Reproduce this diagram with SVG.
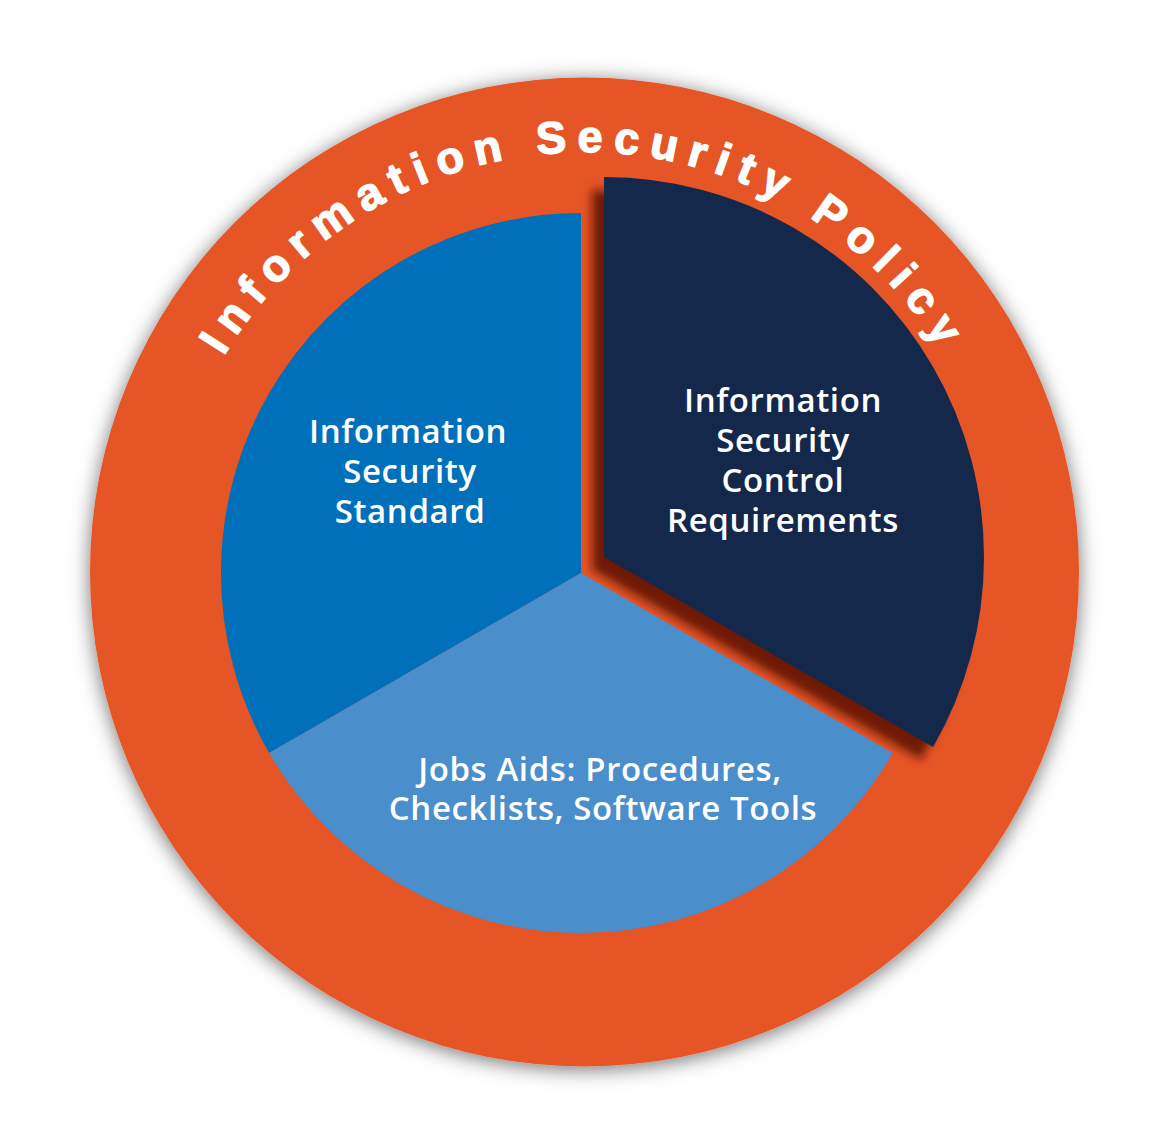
<svg xmlns="http://www.w3.org/2000/svg" width="1169" height="1145" viewBox="0 0 1169 1145">
  <defs>
    <filter id="ringShadow" x="-10%" y="-10%" width="120%" height="120%">
      <feGaussianBlur in="SourceAlpha" stdDeviation="10"/>
      <feOffset dx="0" dy="3" result="b"/>
      <feFlood flood-color="#000" flood-opacity="0.55"/>
      <feComposite in2="b" operator="in" result="s"/>
      <feMerge><feMergeNode in="s"/><feMergeNode in="SourceGraphic"/></feMerge>
    </filter>
    <filter id="segShadow" x="-20%" y="-20%" width="140%" height="140%">
      <feGaussianBlur in="SourceAlpha" stdDeviation="5"/>
      <feOffset dx="-12" dy="13" result="b"/>
      <feFlood flood-color="#5a1200" flood-opacity="0.85"/>
      <feComposite in2="b" operator="in"/>
    </filter>
    <path id="arc" d="M 164,572 A 420 420 0 0 1 1004,572"/>
    <style>
      .lbl { font-family: "Open Sans", "Liberation Sans", sans-serif; font-weight: 600; font-size: 33px; letter-spacing: 0.6px; fill: #ffffff; text-anchor: middle; }
      .arc { font-family: "Liberation Sans", Arial, sans-serif; font-weight: bold; font-size: 45px; fill: #ffffff; stroke: #ffffff; stroke-width: 1.4px; stroke-linejoin: round; letter-spacing: 10.5px; }
    </style>
  </defs>
  <rect width="1169" height="1145" fill="#ffffff"/>
  <g id="policy-ring">
    <circle cx="584.5" cy="572" r="494.5" fill="#E55526" filter="url(#ringShadow)"/>
    <text class="arc"><textPath href="#arc" startOffset="50%" text-anchor="middle">Information Security Policy</textPath></text>
  </g>
  <path d="M604,557 L604,177 A380,380 0 0 1 933.1,747 Z" fill="#000" filter="url(#segShadow)"/>
  <g id="standard">
    <path d="M581,573 L581,213 A360,360 0 0 0 269.2,753 Z" fill="#0070BA"/>
    <text class="lbl" x="408" y="443">Information</text>
    <text class="lbl" x="410" y="483">Security</text>
    <text class="lbl" x="410" y="523">Standard</text>
  </g>
  <g id="jobaids">
    <path d="M581,573 L269.2,753 A360,360 0 0 0 892.8,753 Z" fill="#4A8ECB"/>
    <text class="lbl" x="600" y="781">Jobs Aids: Procedures,</text>
    <text class="lbl" x="603" y="820">Checklists, Software Tools</text>
  </g>
  <g id="controls">
    <path d="M604,557 L604,177 A380,380 0 0 1 933.1,747 Z" fill="#14284B"/>
    <text class="lbl" x="783" y="412">Information</text>
    <text class="lbl" x="783" y="452">Security</text>
    <text class="lbl" x="783" y="492">Control</text>
    <text class="lbl" x="783" y="532">Requirements</text>
  </g>
</svg>
